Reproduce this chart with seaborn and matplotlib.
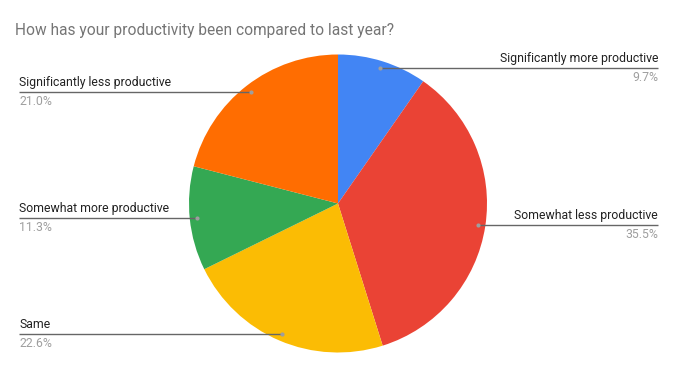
import numpy as np
import matplotlib
matplotlib.use("Agg")
import matplotlib.pyplot as plt
import seaborn as sns

title = "How has your productivity been compared to last year?"
categories = ["Significantly more productive", "Somewhat less productive", "Same",
              "Somewhat more productive", "Significantly less productive"]
values = [9.7, 35.5, 22.6, 11.3, 21.0]
pct_labels = ["9.7%", "35.5%", "22.6%", "11.3%", "21.0%"]
colors = ["#4285F4", "#EA4335", "#FBBC04", "#34A853", "#FF6D01"]

sns.set_theme(style="white")
plt.rcParams['font.family'] = ['Roboto', 'DejaVu Sans']

W, H = 677, 371
fig = plt.figure(figsize=(W / 100, H / 100), dpi=100)
ax = fig.add_axes([0, 0, 1, 1])

cx, cy, R = 338, H - 203.5, 149
wedges, _ = ax.pie(values, colors=colors, startangle=90, counterclock=False,
                   center=(cx, cy), radius=R, frame=True,
                   wedgeprops=dict(linewidth=0))
ax.set_xlim(0, W)
ax.set_ylim(0, H)
ax.set_aspect('equal')
ax.set_axis_off()

total = sum(values)
cum = 0
for cat, v, p in zip(categories, values, pct_labels):
    mid = 90 - 360 * (cum + v / 2) / total
    cum += v
    dx = cx + 0.95 * R * np.cos(np.radians(mid))
    dy = cy + 0.95 * R * np.sin(np.radians(mid))
    if dx >= cx:
        x_end, ha = 658, 'right'
    else:
        x_end, ha = 19, 'left'
    ax.plot([dx, x_end], [dy, dy], color='#666666', lw=1, solid_capstyle='butt', zorder=3)
    ax.scatter([dx], [dy], s=9, color='#9e9e9e', zorder=4, linewidths=0)
    ax.text(x_end, dy + 3, cat, ha=ha, va='bottom', fontsize=8.8, color='#222222')
    ax.text(x_end, dy - 3, p, ha=ha, va='top', fontsize=8.8, color='#9e9e9e')

ax.text(15, H - 31, title, ha='left', va='center', fontsize=11.2, color='#757575')

fig.savefig("out.png", dpi=100)
